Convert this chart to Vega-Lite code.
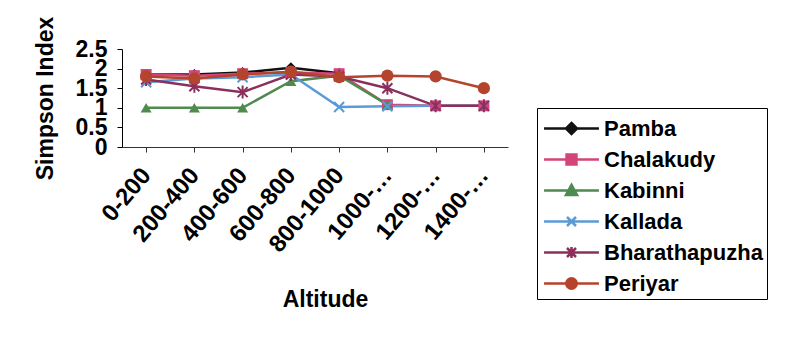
{
  "$schema": "https://vega.github.io/schema/vega-lite/v6.json",
  "width": 386,
  "height": 98,
  "autosize": {"type": "none"},
  "padding": {"left": 122, "top": 49, "right": 283, "bottom": 198},
  "background": "white",
  "config": {
    "view": {"stroke": null},
    "font": "Liberation Sans",
    "axis": {"labelColor": "#000", "titleColor": "#000", "grid": false}
  },
  "data": {
    "values": [
      {"altitude": "0-200", "series": "Pamba", "simpson": 1.85},
      {"altitude": "200-400", "series": "Pamba", "simpson": 1.85},
      {"altitude": "400-600", "series": "Pamba", "simpson": 1.9},
      {"altitude": "600-800", "series": "Pamba", "simpson": 2.02},
      {"altitude": "800-1000", "series": "Pamba", "simpson": 1.88},
      {"altitude": "0-200", "series": "Chalakudy", "simpson": 1.85},
      {"altitude": "200-400", "series": "Chalakudy", "simpson": 1.82},
      {"altitude": "400-600", "series": "Chalakudy", "simpson": 1.87},
      {"altitude": "600-800", "series": "Chalakudy", "simpson": 1.9},
      {"altitude": "800-1000", "series": "Chalakudy", "simpson": 1.87},
      {"altitude": "1000-1200", "series": "Chalakudy", "simpson": 1.08},
      {"altitude": "1200-1400", "series": "Chalakudy", "simpson": 1.05},
      {"altitude": "1400-1600", "series": "Chalakudy", "simpson": 1.05},
      {"altitude": "0-200", "series": "Kabinni", "simpson": 1.0},
      {"altitude": "200-400", "series": "Kabinni", "simpson": 1.0},
      {"altitude": "400-600", "series": "Kabinni", "simpson": 1.0},
      {"altitude": "600-800", "series": "Kabinni", "simpson": 1.68},
      {"altitude": "800-1000", "series": "Kabinni", "simpson": 1.82},
      {"altitude": "1000-1200", "series": "Kabinni", "simpson": 1.08},
      {"altitude": "0-200", "series": "Kallada", "simpson": 1.65},
      {"altitude": "200-400", "series": "Kallada", "simpson": 1.75},
      {"altitude": "400-600", "series": "Kallada", "simpson": 1.78},
      {"altitude": "600-800", "series": "Kallada", "simpson": 1.85},
      {"altitude": "800-1000", "series": "Kallada", "simpson": 1.02},
      {"altitude": "1000-1200", "series": "Kallada", "simpson": 1.04},
      {"altitude": "1200-1400", "series": "Kallada", "simpson": 1.05},
      {"altitude": "1400-1600", "series": "Kallada", "simpson": 1.05},
      {"altitude": "0-200", "series": "Bharathapuzha", "simpson": 1.72},
      {"altitude": "200-400", "series": "Bharathapuzha", "simpson": 1.55},
      {"altitude": "400-600", "series": "Bharathapuzha", "simpson": 1.4},
      {"altitude": "600-800", "series": "Bharathapuzha", "simpson": 1.85},
      {"altitude": "800-1000", "series": "Bharathapuzha", "simpson": 1.8},
      {"altitude": "1000-1200", "series": "Bharathapuzha", "simpson": 1.5},
      {"altitude": "1200-1400", "series": "Bharathapuzha", "simpson": 1.05},
      {"altitude": "1400-1600", "series": "Bharathapuzha", "simpson": 1.05},
      {"altitude": "0-200", "series": "Periyar", "simpson": 1.8},
      {"altitude": "200-400", "series": "Periyar", "simpson": 1.75},
      {"altitude": "400-600", "series": "Periyar", "simpson": 1.85},
      {"altitude": "600-800", "series": "Periyar", "simpson": 1.92},
      {"altitude": "800-1000", "series": "Periyar", "simpson": 1.78},
      {"altitude": "1000-1200", "series": "Periyar", "simpson": 1.82},
      {"altitude": "1200-1400", "series": "Periyar", "simpson": 1.8},
      {"altitude": "1400-1600", "series": "Periyar", "simpson": 1.5}
    ]
  },
  "encoding": {
    "x": {
      "field": "altitude",
      "type": "nominal",
      "sort": ["0-200", "200-400", "400-600", "600-800", "800-1000", "1000-1200", "1200-1400", "1400-1600"],
      "scale": {"type": "point", "padding": 0.5},
      "axis": {
        "title": "Altitude",
        "labelExpr": "length(datum.label) > 8 ? slice(datum.label, 0, 5) + '…' : datum.label",
        "labelAngle": -50,
        "labelAlign": "right",
        "labelBaseline": "middle",
        "labelFontSize": 24,
        "labelFontWeight": "bold",
        "labelPadding": 19,
        "labelDy": 16,
        "labelLimit": 0,
        "tickSize": 5,
        "domainColor": "#333",
        "tickColor": "#333",
        "titleFontSize": 23,
        "titleFontWeight": "bold",
        "titlePadding": 32,
        "titleX": 203
      }
    },
    "y": {
      "field": "simpson",
      "type": "quantitative",
      "scale": {"domain": [0, 2.5]},
      "axis": {
        "title": "Simpson Index",
        "values": [0, 0.5, 1, 1.5, 2, 2.5],
        "format": "~g",
        "labelOverlap": false,
        "labelFontSize": 23,
        "labelFontWeight": "bold",
        "labelPadding": 10,
        "tickSize": 5,
        "domainColor": "#000",
        "tickColor": "#000",
        "titleFontSize": 23,
        "titleFontWeight": "bold",
        "titlePadding": 18
      }
    }
  },
  "layer": [
    {
      "mark": {"type": "line", "strokeWidth": 2.5},
      "encoding": {
        "color": {
          "field": "series",
          "type": "nominal",
          "sort": ["Pamba", "Chalakudy", "Kabinni", "Kallada", "Bharathapuzha", "Periyar"],
          "scale": {"range": ["#111111", "#d4447a", "#4f8a4f", "#5b9bd5", "#8b2f5c", "#b5442e"]},
          "legend": null
        }
      }
    },
    {
      "transform": [{"filter": {"field": "series", "equal": "Pamba"}}],
      "mark": {"type": "point", "shape": "diamond", "filled": true, "size": 120, "opacity": 1, "color": "#111111"}
    },
    {
      "transform": [{"filter": {"field": "series", "equal": "Chalakudy"}}],
      "mark": {"type": "point", "shape": "square", "filled": true, "size": 120, "opacity": 1, "color": "#d4447a"}
    },
    {
      "transform": [{"filter": {"field": "series", "equal": "Kabinni"}}],
      "mark": {"type": "point", "shape": "triangle-up", "filled": true, "size": 120, "opacity": 1, "color": "#4f8a4f"}
    },
    {
      "transform": [{"filter": {"field": "series", "equal": "Kallada"}}],
      "mark": {"type": "point", "shape": "M-1,-1L1,1M-1,1L1,-1", "filled": false, "strokeWidth": 2, "size": 100, "opacity": 1, "color": "#5b9bd5"}
    },
    {
      "transform": [{"filter": {"field": "series", "equal": "Bharathapuzha"}}],
      "mark": {"type": "point", "shape": "M-1,-1L1,1M-1,1L1,-1M0,-1.3L0,1.3", "filled": false, "strokeWidth": 2, "size": 100, "opacity": 1, "color": "#8b2f5c"}
    },
    {
      "transform": [{"filter": {"field": "series", "equal": "Periyar"}}],
      "mark": {"type": "point", "shape": "circle", "filled": true, "size": 150, "opacity": 1, "color": "#b5442e"}
    },
    {
      "mark": {"type": "point", "filled": true, "opacity": 0},
      "encoding": {
        "fill": {
          "field": "series",
          "type": "nominal",
          "scale": {
            "domain": ["Pamba", "Chalakudy", "Kabinni", "Kallada", "Bharathapuzha", "Periyar"],
            "range": ["#111111", "#d4447a", "#4f8a4f", "#5b9bd5", "#8b2f5c", "#b5442e"]
          },
          "legend": {"title": null}
        },
        "stroke": {
          "field": "series",
          "type": "nominal",
          "scale": {
            "domain": ["Pamba", "Chalakudy", "Kabinni", "Kallada", "Bharathapuzha", "Periyar"],
            "range": ["#111111", "#d4447a", "#4f8a4f", "#5b9bd5", "#8b2f5c", "#b5442e"]
          },
          "legend": {"title": null}
        },
        "shape": {
          "field": "series",
          "type": "nominal",
          "scale": {
            "domain": ["Pamba", "Chalakudy", "Kabinni", "Kallada", "Bharathapuzha", "Periyar"],
            "range": [
              "M-1.83,0L1.83,0M0,-0.37L0.37,0L0,0.37L-0.37,0Z",
              "M-1.83,0L1.83,0M-0.33,-0.33L0.33,-0.33L0.33,0.33L-0.33,0.33Z",
              "M-1.83,0L1.83,0M0,-0.37L0.37,0.3L-0.37,0.3Z",
              "M-1.83,0L1.83,0M-0.3,-0.3L0.3,0.3M-0.3,0.3L0.3,-0.3",
              "M-1.83,0L1.83,0M-0.3,-0.3L0.3,0.3M-0.3,0.3L0.3,-0.3M0,-0.37L0,0.37",
              "M-1.83,0L1.83,0M-0.35,0A0.35,0.35 0 1,0 0.35,0A0.35,0.35 0 1,0 -0.35,0Z"
            ]
          },
          "legend": {
            "title": null,
            "orient": "none",
            "legendX": 415,
            "legendY": 59,
            "symbolSize": 900,
            "symbolStrokeWidth": 2.5,
            "symbolOpacity": 1,
            "symbolOffset": 14,
            "labelOffset": 16,
            "labelFont": "Liberation Sans",
            "labelFontSize": 22,
            "labelFontWeight": "bold",
            "labelColor": "#000",
            "labelLimit": 0,
            "rowPadding": 3,
            "padding": 4,
            "strokeColor": "#000"
          }
        }
      }
    }
  ]
}
